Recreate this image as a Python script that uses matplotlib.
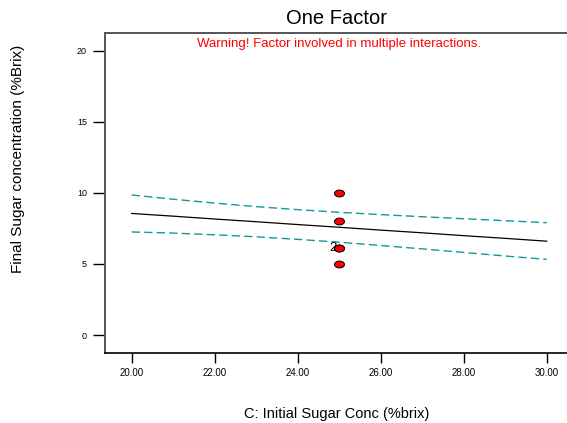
import matplotlib
matplotlib.use("Agg")
import matplotlib.pyplot as plt
from matplotlib.path import Path
from matplotlib.transforms import Affine2D

plt.rcParams['font.family'] = ['Liberation Sans', 'DejaVu Sans']

# design points (C: initial sugar conc, final sugar conc)
conc_pts = [25.0, 25.0, 25.0, 25.0, 25.0]
final_pts = [10.0, 8.0, 6.1, 6.1, 5.0]

# predicted line and 95% CI bands
conc_line = [20.0, 21.0, 22.0, 23.0, 24.0, 25.0, 26.0, 27.0, 28.0, 29.0, 30.0]
pred = [8.55, 8.36, 8.16, 7.97, 7.77, 7.58, 7.38, 7.19, 6.99, 6.80, 6.60]
upper = [9.85, 9.55, 9.28, 9.03, 8.82, 8.63, 8.47, 8.32, 8.18, 8.04, 7.90]
lower = [7.25, 7.17, 7.05, 6.91, 6.73, 6.53, 6.30, 6.06, 5.81, 5.56, 5.32]

xticks = [20, 22, 24, 26, 28, 30]
yticks = [0, 5, 10, 15, 20]

fig = plt.figure(figsize=(5.67, 4.23), dpi=100)
ax = fig.add_axes([105 / 567, 1 - 352.7 / 423, 1 - 105 / 567, 320 / 423])

ax.plot(conc_line, pred, color='black', lw=0.9)
ax.plot(conc_line, upper, color='#109a9a', lw=1.0, dashes=(6, 3))
ax.plot(conc_line, lower, color='#109a9a', lw=1.0, dashes=(6, 3))

# ellipse marker, a bit wider than tall
ell = Path.unit_circle().transformed(Affine2D().scale(1.45, 1.0))
ax.plot(conc_pts, final_pts, linestyle='none', marker=ell, ms=7.2,
        mfc='#ff0000', mec='black', mew=0.7, zorder=5)
# two runs sit on the same spot
ax.annotate('2', (conc_pts[2], final_pts[2]), xytext=(-2, 0), textcoords='offset points',
            ha='right', va='center', fontsize=9.5, zorder=4)

ax.set_xlim(19.357, 30.49)
ax.set_ylim(-1.24, 21.26)
ax.set_xticks(xticks)
ax.set_xticklabels(['%.2f' % v for v in xticks])
ax.set_yticks(yticks)
ax.tick_params(axis='x', direction='out', length=7, width=1, labelsize=7, pad=4)
ax.tick_params(axis='y', direction='out', length=9, width=1, labelsize=6.5, pad=4)
ax.spines['right'].set_visible(False)
for s in ['left', 'top']:
    ax.spines[s].set_color('#555555')
    ax.spines[s].set_linewidth(1.4)
ax.spines['bottom'].set_color('black')
ax.spines['bottom'].set_linewidth(1.2)

fig.text(337 / 567, 1 - 19 / 423, 'One Factor', ha='center', va='center', fontsize=14.5)
fig.text(339 / 567, 1 - 44 / 423, 'Warning! Factor involved in multiple interactions.',
         ha='center', va='center', fontsize=9.5, color='#ff0000')
fig.text(337 / 567, 1 - 414 / 423, 'C: Initial Sugar Conc (%brix)',
         ha='center', va='center', fontsize=10.5)
fig.text(18 / 567, 1 - 159 / 423, 'Final Sugar concentration (%Brix)',
         ha='center', va='center', rotation=90, fontsize=11)

fig.savefig('out.png', dpi=100)
